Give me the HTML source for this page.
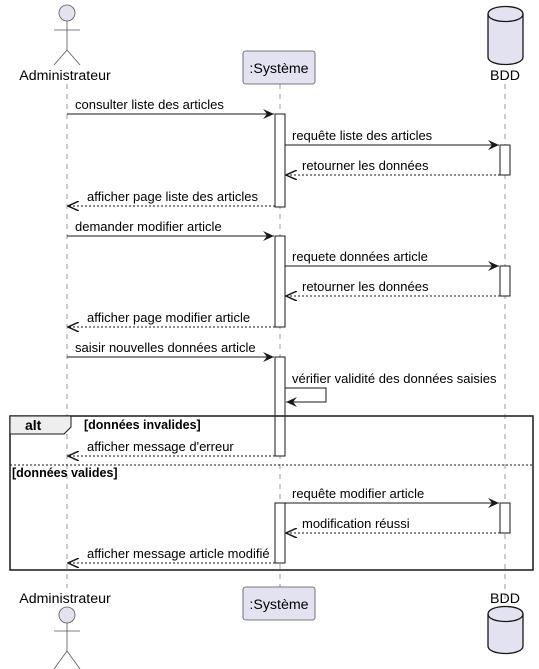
<!DOCTYPE html>
<html><head><meta charset="utf-8"><style>
html,body{margin:0;padding:0;background:#fff;}
svg{display:block;}
text{font-family:"Liberation Sans",sans-serif;font-size:13px;fill:#000;}
.n{font-size:14.2px;}
.b{font-weight:bold;font-size:12.5px;}
</style></head><body>
<svg width="539" height="669" viewBox="0 0 539 669" xmlns="http://www.w3.org/2000/svg">
<defs>
<marker id="a" markerWidth="12" markerHeight="10" refX="11" refY="5" orient="auto" markerUnits="userSpaceOnUse">
<path d="M0,0 L11,5 L0,10 L4,5 Z" fill="#181818"/></marker>
<marker id="o" markerWidth="12" markerHeight="10" refX="11" refY="5" orient="auto" markerUnits="userSpaceOnUse">
<path d="M0,0 L11,5 L0,10" fill="none" stroke="#181818" stroke-width="1.5"/></marker>
</defs>
<g stroke="#555" stroke-width="0.6" stroke-dasharray="5,5">
<line x1="67" y1="84" x2="67" y2="588"/>
<line x1="280" y1="84" x2="280" y2="588"/>
<line x1="505" y1="84" x2="505" y2="604"/>
</g>
<g stroke="#555" stroke-width="0.8" fill="#e2e2f0">
<circle cx="67" cy="13" r="8"/>
<line x1="67" y1="21" x2="67" y2="50"/><line x1="54" y1="30" x2="80" y2="30"/>
<line x1="67" y1="50" x2="54" y2="65"/><line x1="67" y1="50" x2="80" y2="65"/>
<circle cx="67" cy="615" r="8"/>
<line x1="67" y1="623" x2="67" y2="651"/><line x1="54" y1="631" x2="80" y2="631"/>
<line x1="67" y1="651" x2="54" y2="669"/><line x1="67" y1="651" x2="80" y2="669"/>
</g>
<text class="n" x="65" y="80" text-anchor="middle">Administrateur</text>
<text class="n" x="65" y="603" text-anchor="middle">Administrateur</text>
<rect x="243" y="51" width="72" height="33" rx="2.5" fill="#e2e2f0" stroke="#555" stroke-width="0.8"/>
<text class="n" x="279" y="73" text-anchor="middle">:Système</text>
<rect x="243" y="587" width="72" height="33" rx="2.5" fill="#e2e2f0" stroke="#555" stroke-width="0.8"/>
<text class="n" x="279" y="609" text-anchor="middle">:Système</text>
<g fill="#e2e2f0" stroke="#181818" stroke-width="1.3">
<path d="M488,14 C488,4 523,4 523,14 L523,57 C523,67 488,67 488,57 Z"/>
<path d="M488,14 C488,24 523,24 523,14" fill="none"/>
<path d="M488,614 C488,604 523,604 523,614 L523,646 C523,656 488,656 488,646 Z"/>
<path d="M488,614 C488,624 523,624 523,614" fill="none"/>
</g>
<text class="n" x="505" y="80" text-anchor="middle">BDD</text>
<text class="n" x="505" y="603" text-anchor="middle">BDD</text>
<g fill="#fff" stroke="#181818" stroke-width="1">
<rect x="275" y="114" width="10" height="93"/>
<rect x="500" y="145" width="10" height="30"/>
<rect x="275" y="236" width="10" height="91"/>
<rect x="500" y="266" width="10" height="30"/>
<rect x="275" y="357" width="10" height="99"/>
<rect x="275" y="503" width="10" height="60"/>
<rect x="500" y="503" width="10" height="30"/>
</g>
<g stroke="#181818" stroke-width="1" fill="none">
<line x1="67" y1="114" x2="274" y2="114" marker-end="url(#a)"/>
<line x1="285" y1="145" x2="499" y2="145" marker-end="url(#a)"/>
<line x1="500" y1="175" x2="286" y2="175" stroke-dasharray="2,2" marker-end="url(#o)"/>
<line x1="275" y1="206" x2="68" y2="206" stroke-dasharray="2,2" marker-end="url(#o)"/>
<line x1="67" y1="236" x2="274" y2="236" marker-end="url(#a)"/>
<line x1="285" y1="266" x2="499" y2="266" marker-end="url(#a)"/>
<line x1="500" y1="296" x2="286" y2="296" stroke-dasharray="2,2" marker-end="url(#o)"/>
<line x1="275" y1="327" x2="68" y2="327" stroke-dasharray="2,2" marker-end="url(#o)"/>
<line x1="67" y1="357" x2="274" y2="357" marker-end="url(#a)"/>
<polyline points="285,388 326,388 326,402 286,402" marker-end="url(#a)"/>
<line x1="275" y1="456" x2="68" y2="456" stroke-dasharray="2,2" marker-end="url(#o)"/>
<line x1="285" y1="503" x2="499" y2="503" marker-end="url(#a)"/>
<line x1="500" y1="533" x2="286" y2="533" stroke-dasharray="2,2" marker-end="url(#o)"/>
<line x1="275" y1="563" x2="68" y2="563" stroke-dasharray="2,2" marker-end="url(#o)"/>
</g>
<text x="75" y="109">consulter liste des articles</text>
<text x="292" y="140">requête liste des articles</text>
<text x="302" y="170">retourner les données</text>
<text x="87" y="201">afficher page liste des articles</text>
<text x="75" y="231">demander modifier article</text>
<text x="292" y="261">requete données article</text>
<text x="302" y="291">retourner les données</text>
<text x="87" y="322">afficher page modifier article</text>
<text x="75" y="352">saisir nouvelles données article</text>
<text x="292" y="383">vérifier validité des données saisies</text>
<text x="87" y="451">afficher message d'erreur</text>
<text x="292" y="498">requête modifier article</text>
<text x="302" y="528">modification réussi</text>
<text x="87" y="558">afficher message article modifié</text>
<rect x="10" y="416" width="523" height="154" fill="none" stroke="#181818" stroke-width="1.5"/>
<path d="M10,416 L71,416 L71,427 L64,434 L10,434 Z" fill="#eeeeee" stroke="#181818" stroke-width="1"/>
<text x="25" y="430" class="b" style="font-size:14px">alt</text>
<text x="84" y="429" class="b">[données invalides]</text>
<line x1="10" y1="465" x2="533" y2="465" stroke="#181818" stroke-width="1" stroke-dasharray="2,2"/>
<text x="12" y="477" class="b">[données valides]</text>
</svg>
</body></html>
